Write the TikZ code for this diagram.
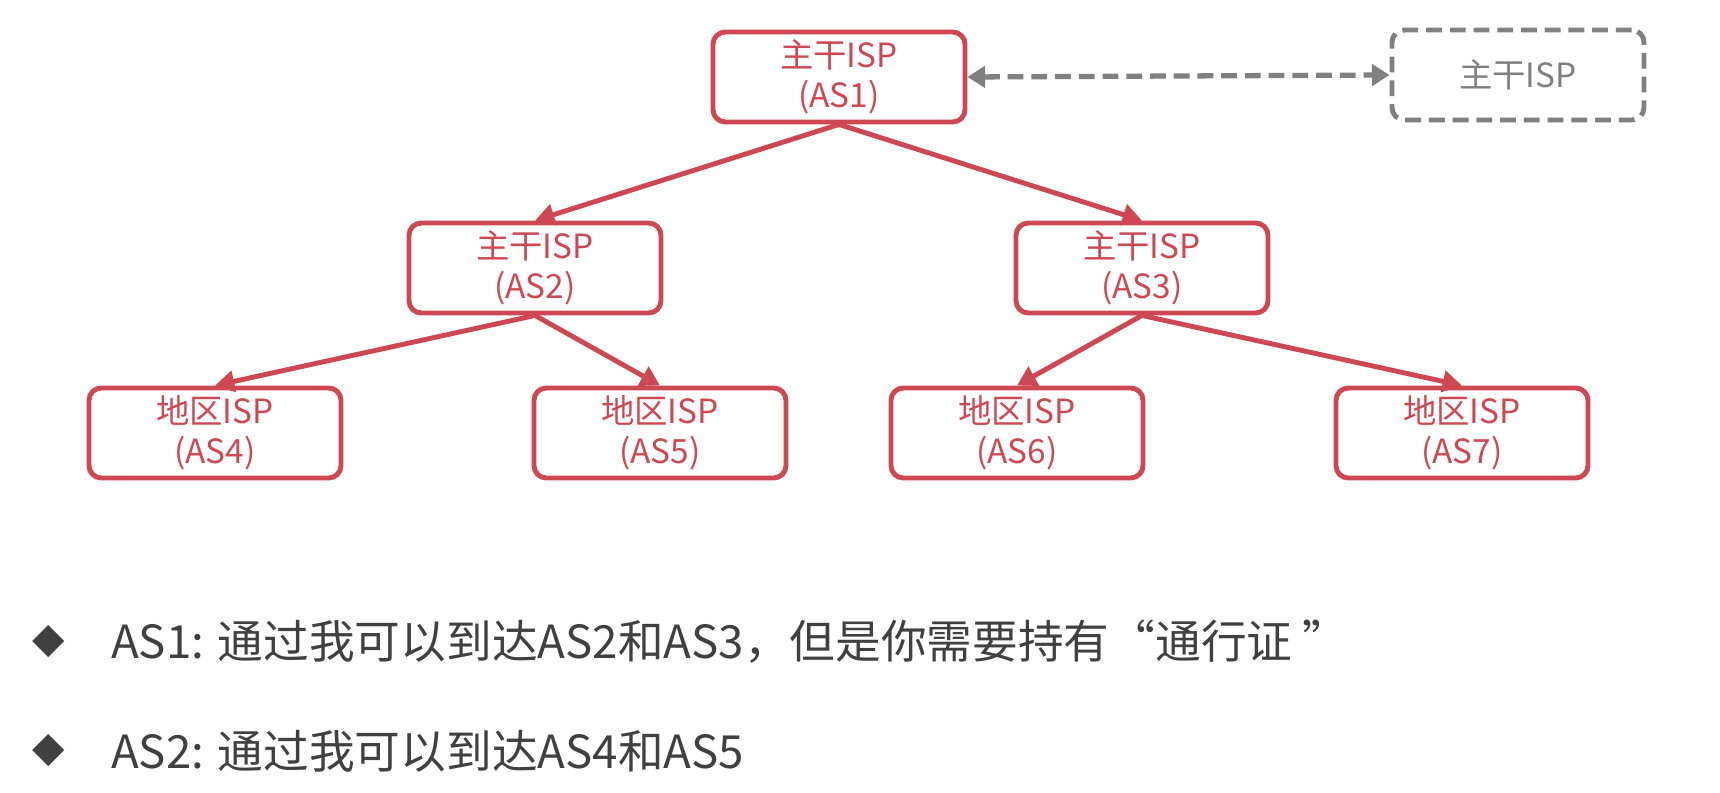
\documentclass[tikz,border=0pt]{standalone}
\usepackage{fontspec}
\setmainfont{Noto Sans CJK SC}
\newfontfamily\symfont{DejaVu Sans}
\usepackage{tikz}
\usetikzlibrary{positioning}
\usetikzlibrary{%
  calc,%
  arrows.meta%
}
\definecolor{ispred}{RGB}{206,72,84}
\definecolor{ispgray}{RGB}{128,128,128}
\definecolor{notegray}{RGB}{64,64,64}
\tikzset{
  ispbox/.style={draw=ispred, line width=2.8pt, rounded corners=7pt, text=ispred,
    minimum width=5.04cm, minimum height=1.8cm, align=center,
    font=\fontsize{19}{22.5}\selectfont},
  ghostbox/.style={ispbox, draw=ispgray, text=ispgray, dash pattern=on 9pt off 4.5pt},
  link/.style={draw=ispred, line width=2.8pt, -{Triangle[length=11pt, width=12pt]}},
  peerlink/.style={draw=ispgray, line width=3pt, dash pattern=on 9pt off 4.5pt,
    {Triangle[length=10pt, width=12pt]}-{Triangle[length=10pt, width=12pt]}},
  note/.style={anchor=west, text=notegray, font=\fontsize{26}{30}\selectfont}
}

\begin{document}
\begin{tikzpicture}
\useasboundingbox (0,0) rectangle (34.4,-15.86);
\node[ispbox] (AS1) at (16.78,-1.54) {主干ISP\\(AS1)};
\node[ghostbox] (peer) at (30.36,-1.50) {主干ISP};
\node[ispbox] (AS2) at (10.70,-5.36) {主干ISP\\(AS2)};
\node[ispbox] (AS3) at (22.84,-5.36) {主干ISP\\(AS3)};
\node[ispbox] (AS4) at (4.30,-8.66) {地区ISP\\(AS4)};
\node[ispbox] (AS5) at (13.20,-8.66) {地区ISP\\(AS5)};
\node[ispbox] (AS6) at (20.34,-8.66) {地区ISP\\(AS6)};
\node[ispbox] (AS7) at (29.24,-8.66) {地区ISP\\(AS7)};

\draw
	(AS1.south) edge[link] (AS2.north)
	(AS1.south) edge[link] (AS3.north)
	(AS2.south) edge[link] (AS4.north)
	(AS2.south) edge[link] (AS5.north)
	(AS3.south) edge[link] (AS6.north)
	(AS3.south) edge[link] (AS7.north)
	(AS1.east) edge[peerlink] (peer.west)
;

\node[text=notegray, font=\symfont\fontsize{24}{28}\selectfont] (bulletA) at (0.98,-12.84) {◆};
\node[note] (noteA) at (2.1,-12.84) {AS1: 通过我可以到达AS2和AS3，但是你需要持有“通行证 ”};
\node[text=notegray, font=\symfont\fontsize{24}{28}\selectfont] (bulletB) at (0.98,-15.02) {◆};
\node[note] (noteB) at (2.1,-15.02) {AS2: 通过我可以到达AS4和AS5};
\end{tikzpicture}
\end{document}
